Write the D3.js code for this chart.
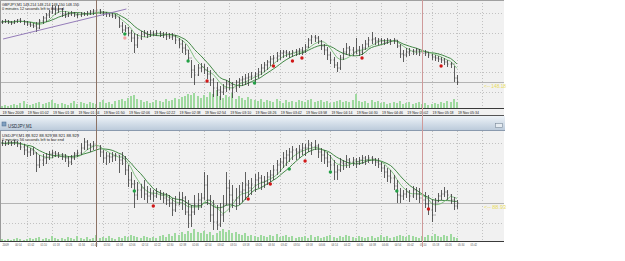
<!DOCTYPE html>
<html>
<head>
<meta charset="utf-8">
<script src="https://cdn.jsdelivr.net/npm/d3@7"></script>
<style>
body { margin: 0; background: #fff; }
svg { display: block; font-family: "Liberation Sans", Arial, sans-serif; }
</style>
</head>
<body>
<script>
// ---- data: two M1 charts (2-minute steps) ----
var startTime = Date.UTC(2009, 10, 19, 0, 46);
var barMinutes = 2;

// GBPJPY,M1
var topHigh = [
  148.80,148.81,148.80,148.79,148.80,148.81,148.82,148.80,148.79,148.78,
  148.77,148.78,148.81,148.84,148.87,148.90,148.95,148.94,148.95,148.92,
  148.89,148.88,148.89,148.88,148.87,148.88,148.88,148.89,148.90,148.91,
  148.93,148.91,148.89,148.88,148.87,148.87,148.86,148.83,148.78,148.75,
  148.73,148.70,148.67,148.66,148.69,148.70,148.69,148.70,148.69,148.70,
  148.69,148.68,148.68,148.67,148.67,148.65,148.62,148.60,148.56,148.50,
  148.40,148.35,148.36,148.37,148.36,148.33,148.30,148.22,148.18,148.14,
  148.16,148.20,148.22,148.18,148.20,148.22,148.24,148.26,148.27,148.28,
  148.28,148.32,148.36,148.38,148.40,148.44,148.45,148.48,148.50,148.50,
  148.50,148.49,148.50,148.51,148.52,148.53,148.56,148.62,148.65,148.65,
  148.64,148.60,148.56,148.53,148.48,148.43,148.38,148.45,148.52,148.57,
  148.54,148.53,148.62,148.54,148.56,148.60,148.63,148.68,148.63,148.62,
  148.62,148.61,148.62,148.61,148.62,148.60,148.56,148.50,148.52,148.52,
  148.51,148.52,148.51,148.50,148.50,148.48,148.46,148.45,148.44,148.43,
  148.42,148.40,148.38,148.34,148.25];
var topLow = [
  148.76,148.77,148.76,148.75,148.76,148.77,148.77,148.75,148.74,148.73,
  148.72,148.68,148.71,148.76,148.78,148.82,148.86,148.85,148.87,148.83,
  148.82,148.83,148.84,148.83,148.82,148.83,148.84,148.84,148.85,148.85,
  148.87,148.86,148.84,148.83,148.83,148.82,148.81,148.72,148.67,148.68,
  148.64,148.58,148.47,148.52,148.60,148.63,148.62,148.63,148.64,148.64,
  148.63,148.62,148.60,148.61,148.60,148.56,148.52,148.47,148.45,148.38,
  148.22,148.15,148.24,148.28,148.26,148.21,148.14,148.03,148.04,148.00,
  148.05,148.08,148.10,148.02,148.08,148.12,148.14,148.15,148.14,148.20,
  148.18,148.22,148.25,148.28,148.30,148.34,148.36,148.38,148.40,148.42,
  148.43,148.42,148.43,148.44,148.45,148.45,148.47,148.52,148.56,148.58,
  148.56,148.50,148.45,148.40,148.36,148.32,148.28,148.30,148.40,148.45,
  148.44,148.44,148.46,148.44,148.45,148.50,148.53,148.56,148.55,148.55,
  148.56,148.55,148.56,148.55,148.56,148.52,148.42,148.38,148.43,148.44,
  148.45,148.45,148.44,148.43,148.44,148.42,148.40,148.39,148.38,148.37,
  148.35,148.33,148.32,148.18,148.15];
var topClose = [
  148.78,148.79,148.78,148.77,148.79,148.80,148.79,148.78,148.76,148.75,
  148.74,148.72,148.79,148.82,148.85,148.88,148.92,148.90,148.91,148.86,
  148.84,148.86,148.87,148.85,148.85,148.86,148.86,148.87,148.88,148.89,
  148.90,148.88,148.87,148.86,148.85,148.84,148.83,148.74,148.70,148.72,
  148.67,148.62,148.55,148.62,148.66,148.67,148.65,148.67,148.66,148.67,
  148.66,148.65,148.64,148.63,148.64,148.60,148.56,148.52,148.50,148.42,
  148.30,148.25,148.32,148.33,148.30,148.26,148.20,148.12,148.10,148.08,
  148.12,148.16,148.15,148.12,148.18,148.20,148.21,148.22,148.23,148.24,
  148.26,148.28,148.32,148.35,148.38,148.41,148.42,148.44,148.47,148.48,
  148.47,148.46,148.48,148.49,148.50,148.49,148.53,148.60,148.63,148.62,
  148.59,148.54,148.50,148.45,148.40,148.35,148.32,148.42,148.48,148.52,
  148.50,148.48,148.50,148.48,148.52,148.56,148.60,148.61,148.59,148.60,
  148.59,148.58,148.60,148.59,148.60,148.54,148.46,148.45,148.48,148.49,
  148.49,148.50,148.48,148.47,148.48,148.45,148.43,148.42,148.41,148.40,
  148.38,148.36,148.36,148.22,148.18];
var topVolume = [
  6,9,6,9,12,9,15,21,12,9,
  12,15,18,12,15,18,24,15,12,15,
  12,9,15,21,12,18,15,12,18,15,
  12,18,24,15,18,12,21,24,27,21,
  30,36,39,27,24,18,21,15,18,24,
  21,18,27,21,24,30,27,33,36,42,
  39,45,36,30,39,33,48,42,54,36,
  30,39,33,45,27,36,30,24,33,27,
  24,21,27,18,24,21,18,27,21,15,
  24,18,21,18,24,21,18,24,27,18,
  21,24,18,21,15,18,21,24,18,21,
  18,24,42,21,18,21,15,24,18,21,
  15,18,12,15,18,15,21,12,15,18,
  12,15,18,12,15,9,12,15,12,18,
  15,21,18,27,18];
var topSignals = [
  {i: 39, p: 148.66, c: "#22a045"}, {i: 39, p: 148.62, c: "#f2a3a3"},
  {i: 59, p: 148.39, c: "#22a045"}, {i: 65, p: 148.19, c: "#d01818"},
  {i: 80, p: 148.17, c: "#22a045"}, {i: 86, p: 148.34, c: "#d01818"},
  {i: 92, p: 148.39, c: "#d01818"}, {i: 95, p: 148.42, c: "#d01818"},
  {i: 114, p: 148.42, c: "#d01818"}, {i: 139, p: 148.34, c: "#d01818"}];
var topTrend = [{m: 47, p: 148.61}, {m: 125, p: 148.91}];
var topGridPrices = [148.87, 148.67, 148.47, 148.28, 148.08];

// USDJPY,M1
var botHigh = [
  89.56,89.55,89.56,89.55,89.56,89.55,89.54,89.52,89.50,89.48,
  89.49,89.44,89.41,89.42,89.43,89.45,89.46,89.45,89.44,89.43,
  89.42,89.40,89.41,89.44,89.46,89.53,89.58,89.56,89.53,89.55,
  89.56,89.51,89.46,89.44,89.43,89.44,89.43,89.41,89.44,89.40,
  89.31,89.24,89.16,89.14,89.12,89.16,89.10,89.08,89.06,89.08,
  89.06,89.04,89.03,89.01,88.98,89.00,89.04,89.04,89.00,88.96,
  88.91,89.01,89.03,89.03,89.24,89.21,89.01,88.96,88.91,88.93,
  89.01,89.24,89.16,89.11,89.08,89.11,89.14,89.24,89.16,89.18,
  89.22,89.24,89.21,89.20,89.24,89.26,89.31,89.36,89.38,89.44,
  89.46,89.48,89.50,89.48,89.51,89.53,89.52,89.56,89.54,89.56,
  89.52,89.48,89.46,89.44,89.41,89.36,89.31,89.38,89.36,89.41,
  89.38,89.39,89.38,89.39,89.41,89.40,89.41,89.40,89.38,89.38,
  89.34,89.31,89.28,89.26,89.21,89.16,89.08,89.06,89.08,89.06,
  89.10,89.09,89.08,89.06,89.04,89.01,88.96,88.98,89.03,89.06,
  89.09,89.06,89.02,88.99,88.96];
var botLow = [
  89.50,89.50,89.51,89.50,89.51,89.49,89.46,89.41,89.39,89.40,
  89.41,89.24,89.28,89.30,89.32,89.36,89.38,89.39,89.38,89.36,
  89.34,89.29,89.31,89.36,89.39,89.41,89.46,89.46,89.44,89.46,
  89.44,89.39,89.33,89.31,89.33,89.34,89.35,89.23,89.31,89.21,
  89.09,89.08,88.88,88.96,88.98,88.96,88.93,88.96,88.94,88.98,
  88.96,88.93,88.91,88.89,88.80,88.84,88.91,88.86,88.81,88.68,
  88.69,88.81,88.86,88.88,88.96,88.91,88.74,88.66,88.66,88.69,
  88.74,88.91,88.84,88.88,88.86,88.91,88.94,88.96,88.99,89.01,
  89.04,89.08,89.06,89.08,89.11,89.14,89.16,89.21,89.24,89.28,
  89.30,89.34,89.36,89.36,89.38,89.41,89.40,89.44,89.41,89.46,
  89.38,89.34,89.32,89.29,89.26,89.16,89.16,89.24,89.26,89.28,
  89.28,89.30,89.28,89.31,89.32,89.31,89.33,89.32,89.30,89.28,
  89.24,89.18,89.14,89.13,89.06,88.93,88.93,88.96,88.98,88.94,
  88.98,88.96,88.93,88.91,88.88,88.81,88.74,88.84,88.94,88.96,
  88.99,88.96,88.92,88.86,88.87];
var botClose = [
  89.53,89.52,89.54,89.53,89.54,89.52,89.49,89.46,89.44,89.46,
  89.43,89.31,89.36,89.38,89.39,89.42,89.43,89.42,89.41,89.40,
  89.38,89.34,89.38,89.42,89.43,89.48,89.54,89.51,89.50,89.52,
  89.49,89.44,89.38,89.40,89.39,89.40,89.41,89.36,89.38,89.26,
  89.16,89.12,89.01,89.06,89.08,89.02,89.00,89.02,89.00,89.03,
  89.01,88.98,88.96,88.93,88.86,88.91,88.96,88.98,88.84,88.81,
  88.84,88.91,88.96,88.98,89.11,88.96,88.81,88.74,88.71,88.81,
  88.91,89.08,89.01,88.96,88.98,89.04,89.06,89.11,89.08,89.11,
  89.16,89.18,89.14,89.15,89.19,89.21,89.26,89.31,89.34,89.38,
  89.41,89.44,89.46,89.44,89.46,89.48,89.48,89.51,89.49,89.50,
  89.44,89.41,89.38,89.34,89.31,89.24,89.26,89.34,89.32,89.36,
  89.34,89.36,89.34,89.36,89.38,89.36,89.38,89.37,89.34,89.32,
  89.28,89.24,89.20,89.18,89.10,89.01,89.00,89.02,89.04,89.00,
  89.06,89.02,88.98,88.96,88.92,88.86,88.81,88.94,89.00,89.02,
  89.04,89.01,88.96,88.90,88.93];
var botVolume = [
  2,1,2,1,2,3,2,1,2,3,
  2,3,4,2,3,2,5,3,2,3,
  2,4,3,2,5,3,2,4,2,3,
  6,3,4,3,5,3,2,4,3,5,
  4,6,5,4,3,5,4,3,4,3,
  5,6,4,7,5,8,6,9,7,10,
  8,12,9,8,10,7,9,6,8,10,
  12,9,11,8,9,7,6,8,5,6,
  5,4,6,5,4,6,5,7,4,5,
  6,4,5,3,4,4,5,3,6,4,
  5,3,4,5,6,4,3,5,4,6,
  5,4,3,5,4,3,4,5,3,4,
  6,4,5,3,4,5,6,5,4,6,
  5,4,3,5,4,6,5,7,5,4,
  6,5,7,4,3];
var botSignals = [
  {i: 42, p: 89.05, c: "#22a045"}, {i: 48, p: 88.90, c: "#d01818"},
  {i: 78, p: 88.97, c: "#d01818"}, {i: 85, p: 89.12, c: "#d01818"},
  {i: 91, p: 89.27, c: "#22a045"}, {i: 96, p: 89.35, c: "#d01818"},
  {i: 104, p: 89.24, c: "#22a045"}, {i: 125, p: 89.05, c: "#22a045"},
  {i: 135, p: 88.87, c: "#d01818"}];
var botGridPrices = [89.53, 89.33, 89.13, 88.93, 88.73];

// vertical line objects (minutes after midnight)
var vLines = [{m: 106, c: "#8c7264"}, {m: 312, c: "#cf9a9a"}];

// ---- layout ----
var W = 625, H = 261, chartRight = 504;
var MIN = 60000;
var svg = d3.select("body").append("svg").attr("width", W).attr("height", H);

var xScale = d3.scaleUtc()
    .domain([startTime, startTime + 304 * MIN])
    .range([1.5, 482.2]);

function barTime(i) { return new Date(startTime + i * barMinutes * MIN); }
function bx(i) { return Math.round(xScale(barTime(i))) + 0.5; }
function minuteTime(m) { return new Date(Date.UTC(2009, 10, 19, 0, m)); }

var gridTimes = d3.range(0, 20).map(function(k) { return new Date(startTime + k * 16 * MIN); });

function sma(values, n) {
    return values.map(function(v, i) {
        return d3.mean(values.slice(Math.max(0, i - n + 1), i + 1));
    });
}

function drawPanel(p) {
    var g = svg.append("g");
    var y = d3.scaleLinear().domain(p.priceDomain).range([p.top, p.bottom]);
    var vh = d3.scaleLinear().domain([0, p.volMax]).range([0, 20]);

    g.append("rect")
        .attr("x", 0).attr("y", p.top)
        .attr("width", chartRight).attr("height", p.bottom - p.top)
        .attr("fill", "#f1f1f1");

    // dotted grid
    g.selectAll(".vg").data(gridTimes.slice(1)).enter().append("line")
        .attr("x1", function(d) { return Math.round(xScale(d)) + 0.5; })
        .attr("x2", function(d) { return Math.round(xScale(d)) + 0.5; })
        .attr("y1", p.top).attr("y2", p.bottom)
        .attr("stroke", "#c2c2c2").attr("stroke-dasharray", "1,2");
    g.selectAll(".hg").data(p.gridPrices).enter().append("line")
        .attr("x1", 0).attr("x2", chartRight)
        .attr("y1", function(d) { return Math.round(y(d)) + 0.5; })
        .attr("y2", function(d) { return Math.round(y(d)) + 0.5; })
        .attr("stroke", "#c2c2c2").attr("stroke-dasharray", "1,2");

    // volumes
    g.selectAll(".vol").data(p.volume).enter().append("rect")
        .attr("x", function(d, i) { return bx(i) - 1.5; })
        .attr("width", 2)
        .attr("y", function(d) { return p.bottom - vh(d); })
        .attr("height", function(d) { return vh(d); })
        .attr("fill", "#9fd99f");

    // bid line
    var last = p.close[p.close.length - 1];
    g.append("line")
        .attr("x1", 0).attr("x2", chartRight)
        .attr("y1", Math.round(y(last)) + 0.5).attr("y2", Math.round(y(last)) + 0.5)
        .attr("stroke", "#b4b4b4");

    // moving averages
    var line = d3.line()
        .x(function(d, i) { return xScale(barTime(i)); })
        .y(function(d) { return y(d); });
    g.append("path").datum(sma(p.close, 10)).attr("d", line)
        .attr("fill", "none").attr("stroke", "#2f7d32").attr("stroke-width", 0.9);
    g.append("path").datum(sma(p.close, 6)).attr("d", line)
        .attr("fill", "none").attr("stroke", "#6bb86b").attr("stroke-width", 0.8);

    // OHLC bars
    g.selectAll(".bar").data(p.close).enter().append("path")
        .attr("d", function(c, i) {
            var x = bx(i);
            var o = i > 0 ? p.close[i - 1] : c;
            return "M" + x + "," + y(p.high[i]) + "V" + y(p.low[i]) +
                "M" + (x - 0.9) + "," + y(o) + "H" + x +
                "M" + x + "," + y(c) + "H" + (x + 0.9);
        })
        .attr("fill", "none").attr("stroke", "#383838").attr("stroke-width", 0.8);

    // signal dots
    g.selectAll(".sig").data(p.signals).enter().append("circle")
        .attr("cx", function(d) { return xScale(barTime(d.i)); })
        .attr("cy", function(d) { return y(d.p); })
        .attr("r", 1.7)
        .attr("fill", function(d) { return d.c; });

    if (p.trend) {
        g.append("line")
            .attr("x1", xScale(minuteTime(p.trend[0].m))).attr("y1", y(p.trend[0].p))
            .attr("x2", xScale(minuteTime(p.trend[1].m))).attr("y2", y(p.trend[1].p))
            .attr("stroke", "#8a6fb2").attr("stroke-width", 0.9);
    }

    // header texts
    g.append("text").attr("x", 2).attr("y", p.top + 5.5)
        .attr("font-size", 4.4).attr("fill", "#222")
        .attr("textLength", 77).attr("lengthAdjust", "spacingAndGlyphs")
        .text(p.header);
    g.append("text").attr("x", 2).attr("y", p.top + 10)
        .attr("font-size", 4.4).attr("fill", "#222")
        .attr("textLength", 62).attr("lengthAdjust", "spacingAndGlyphs")
        .text(p.timer);

    // yellow price label
    g.append("text").attr("x", 484).attr("y", y(last) + 6)
        .attr("font-size", 4.5).attr("fill", "#e9dc5a")
        .attr("textLength", 22).attr("lengthAdjust", "spacingAndGlyphs")
        .text("<-- " + last.toFixed(2));

    // axis line
    g.append("line")
        .attr("x1", 0).attr("x2", chartRight)
        .attr("y1", p.bottom + 0.5).attr("y2", p.bottom + 0.5)
        .attr("stroke", "#3a3a3a");
    g.append("line")
        .attr("x1", 0.5).attr("x2", 0.5).attr("y1", p.top).attr("y2", p.bottom)
        .attr("stroke", "#9a9a9a");
    return y;
}

// top chart
svg.append("rect").attr("x", 0).attr("y", 0).attr("width", chartRight).attr("height", 116).attr("fill", "#f1f1f1");
drawPanel({
    top: 0, bottom: 108, priceDomain: [149.00, 147.92],
    high: topHigh, low: topLow, close: topClose, volume: topVolume, volMax: 60,
    signals: topSignals, trend: topTrend, gridPrices: topGridPrices,
    header: "GBPJPY,M1  148.214 148.214 148.150 148.150",
    timer: "0 minutes 12 seconds left to bar end"
});
svg.append("line").attr("x1", 0).attr("x2", chartRight).attr("y1", 0.5).attr("y2", 0.5).attr("stroke", "#a0a0a0");

// top time labels
var fmt = d3.utcFormat("%d %b %H:%M");
svg.selectAll(".tl").data(gridTimes.slice(0, 19)).enter().append("text")
    .attr("x", function(d) { return xScale(d) + 1; })
    .attr("y", 114)
    .attr("font-size", 4.2).attr("fill", "#222")
    .attr("textLength", 21).attr("lengthAdjust", "spacingAndGlyphs")
    .text(function(d, i) { return i === 0 ? "19 Nov 2009" : fmt(d); });
svg.append("line").attr("x1", 0).attr("x2", chartRight).attr("y1", 115.5).attr("y2", 115.5).attr("stroke", "#555");

// title bar of the second window
var grad = svg.append("defs").append("linearGradient").attr("id", "bar").attr("x1", 0).attr("x2", 0).attr("y1", 0).attr("y2", 1);
grad.append("stop").attr("offset", 0).attr("stop-color", "#eef3f8");
grad.append("stop").attr("offset", 1).attr("stop-color", "#bccbdb");
svg.append("rect").attr("x", 0).attr("y", 116).attr("width", chartRight + 1).attr("height", 14).attr("fill", "url(#bar)");
svg.append("line").attr("x1", 0).attr("x2", chartRight + 1).attr("y1", 130.5).attr("y2", 130.5).attr("stroke", "#8a9aae");
svg.append("rect").attr("x", 2).attr("y", 122).attr("width", 4).attr("height", 4).attr("fill", "#7f9fc0").attr("stroke", "#4a6a8a").attr("stroke-width", 0.5);
svg.append("text").attr("x", 8).attr("y", 127.5).attr("font-size", 5.2).attr("fill", "#1d2d3d")
    .attr("textLength", 24).attr("lengthAdjust", "spacingAndGlyphs").text("USDJPY,M1");
svg.append("rect").attr("x", 495.5).attr("y", 123.5).attr("width", 7).attr("height", 4).attr("fill", "#e6ecf2").attr("stroke", "#7c8a9a").attr("stroke-width", 0.6);

// bottom chart
drawPanel({
    top: 131, bottom: 241, priceDomain: [89.65, 88.55],
    high: botHigh, low: botLow, close: botClose, volume: botVolume, volMax: 20,
    signals: botSignals, trend: null, gridPrices: botGridPrices,
    header: "USDJPY,M1  88.922 88.929 88.921 88.929",
    timer: "0 minutes 56 seconds left to bar end"
});

// bottom time labels (every 8 minutes, tiny)
var botTimes = d3.range(0, 38).map(function(k) { return new Date(startTime + k * 8 * MIN); });
var hm = d3.utcFormat("%H:%M");
svg.selectAll(".bl").data(botTimes).enter().append("text")
    .attr("x", function(d) { return xScale(d) + 1; })
    .attr("y", 246)
    .attr("font-size", 3.4).attr("fill", "#555")
    .attr("textLength", 6.5).attr("lengthAdjust", "spacingAndGlyphs")
    .text(function(d, i) { return i === 0 ? "2009" : hm(d); });

// vertical line objects across both windows
svg.selectAll(".vl").data(vLines).enter().append("line")
    .attr("x1", function(d) { return Math.round(xScale(minuteTime(d.m))) + 0.5; })
    .attr("x2", function(d) { return Math.round(xScale(minuteTime(d.m))) + 0.5; })
    .attr("y1", 0).attr("y2", 247)
    .attr("stroke", function(d) { return d.c; }).attr("stroke-width", 1);
</script>
</body>
</html>
